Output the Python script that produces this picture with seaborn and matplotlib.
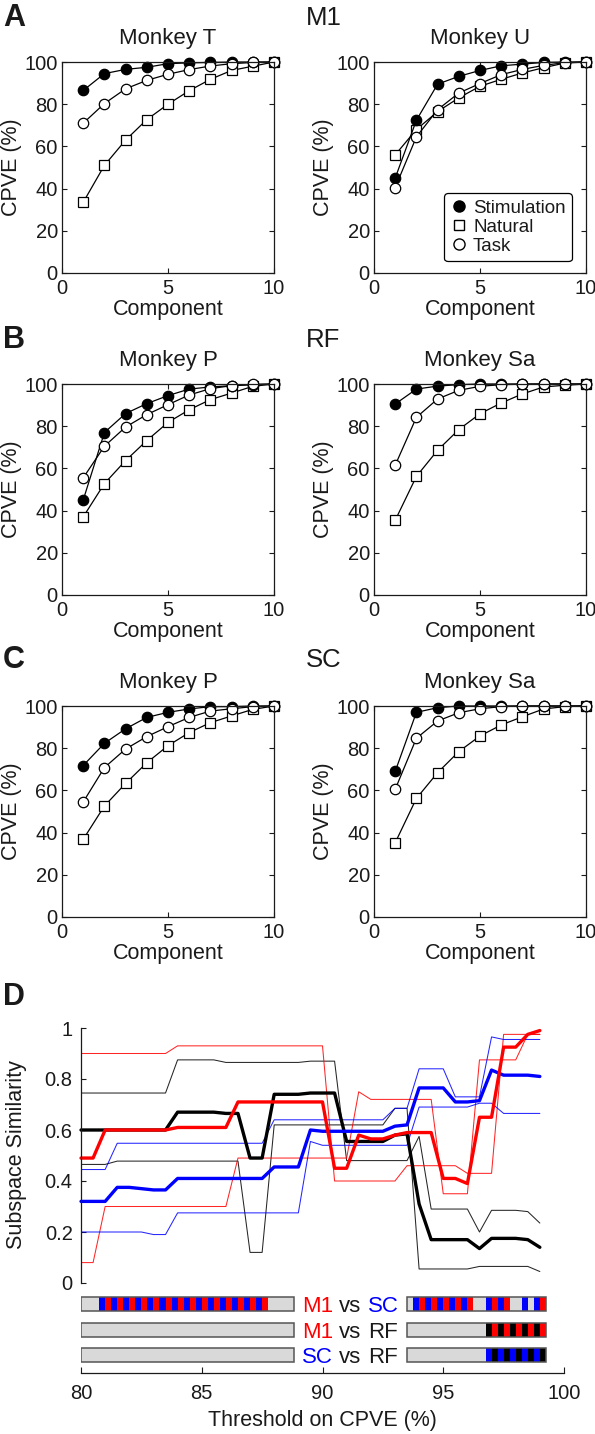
import matplotlib
matplotlib.use('Agg')
import matplotlib.pyplot as plt
from matplotlib.lines import Line2D
import seaborn as sns

sns.set_style('ticks')
plt.rcParams['font.family'] = ['Liberation Sans', 'DejaVu Sans']
plt.rcParams['text.color'] = '#1a1a1a'
plt.rcParams['axes.labelcolor'] = '#1a1a1a'
plt.rcParams['xtick.color'] = '#1a1a1a'
plt.rcParams['ytick.color'] = '#1a1a1a'
plt.rcParams['axes.edgecolor'] = '#1a1a1a'

# ---- CPVE panels (A, B, C) ----
components = [1, 2, 3, 4, 5, 6, 7, 8, 9, 10]

t_stim = [86.5, 94.5, 96.5, 97.5, 99.2, 99.6, 99.8, 100, 100, 100]
t_nat = [33.5, 51, 63, 72.7, 80, 86.4, 91.8, 96, 98, 100]
t_task = [71, 80.3, 87.3, 91.3, 94.2, 96.4, 98.1, 99.2, 99.8, 100]

u_stim = [45, 72.4, 89.5, 93.2, 96, 98.2, 99, 99.8, 100, 100]
u_nat = [56, 68, 76.5, 83, 88.5, 91.8, 94.8, 97.3, 99.5, 100]
u_task = [40.5, 64.5, 77.4, 85.3, 89.8, 94, 96.5, 98.4, 99.7, 100]

p_rf_stim = [45, 77, 86, 90.7, 94.5, 97.6, 98.6, 99.2, 99.7, 100]
p_rf_nat = [37, 52.8, 63.7, 73.2, 81.8, 87.8, 92.6, 95.7, 98.9, 100]
p_rf_task = [55.5, 70.5, 79.6, 85.5, 90.2, 94.8, 97.8, 99.2, 99.8, 100]

sa_rf_stim = [90.5, 97.6, 99, 99.7, 100, 100, 100, 100, 100, 100]
sa_rf_nat = [35.4, 56.2, 68.6, 78.4, 85.9, 91, 95.3, 98.6, 99.4, 100]
sa_rf_task = [61.5, 84.2, 92.9, 97, 98.9, 99.7, 99.9, 100, 100, 100]

p_sc_stim = [71.8, 82.3, 89.2, 94.6, 97, 98.6, 99.7, 99.7, 100, 100]
p_sc_nat = [36.8, 52.6, 63.3, 73.1, 81.2, 87.4, 92.1, 95.3, 98.4, 100]
p_sc_task = [54.5, 70.8, 79.6, 85.5, 90.2, 94.6, 97.6, 98.7, 99.7, 100]

sa_sc_stim = [69, 97, 99.2, 100, 100, 100, 100, 100, 100, 100]
sa_sc_nat = [35.2, 56.2, 68.4, 78.4, 85.8, 91, 94.9, 98.6, 99.7, 100]
sa_sc_task = [60.5, 84.7, 92.9, 96.8, 98.7, 99.7, 100, 100, 100, 100]

# ---- Panel D: subspace similarity vs threshold ----
thresholds = [80, 80.5, 81, 81.5, 82, 82.5, 83, 83.5, 84, 84.5, 85, 85.5, 86,
              86.5, 87, 87.5, 88, 88.5, 89, 89.5, 90, 90.5, 91, 91.5, 92, 92.5,
              93, 93.5, 94, 94.5, 95, 95.5, 96, 96.5, 97, 97.5, 98, 98.5, 99]

black_mean = [0.60, 0.60, 0.60, 0.60, 0.60, 0.60, 0.60, 0.60, 0.67, 0.67, 0.67, 0.67, 0.665,
              0.665, 0.49, 0.49, 0.74, 0.74, 0.74, 0.745, 0.745, 0.745, 0.555, 0.555, 0.555, 0.555,
              0.58, 0.585, 0.31, 0.17, 0.17, 0.17, 0.17, 0.135, 0.175, 0.175, 0.175, 0.17, 0.14]
black_a = [0.745, 0.745, 0.745, 0.745, 0.745, 0.745, 0.745, 0.745, 0.875, 0.875, 0.875, 0.875, 0.865,
           0.865, 0.865, 0.865, 0.865, 0.865, 0.865, 0.87, 0.87, 0.87, 0.48, 0.48, 0.48, 0.48,
           0.48, 0.48, 0.575, 0.29, 0.29, 0.29, 0.29, 0.20, 0.285, 0.285, 0.285, 0.28, 0.235]
black_b = [0.465, 0.465, 0.465, 0.478, 0.478, 0.478, 0.478, 0.478, 0.478, 0.478, 0.478, 0.478, 0.478,
           0.478, 0.12, 0.12, 0.62, 0.62, 0.62, 0.62, 0.62, 0.62, 0.62, 0.62, 0.62, 0.62,
           0.685, 0.685, 0.055, 0.055, 0.055, 0.055, 0.055, 0.065, 0.065, 0.065, 0.065, 0.065, 0.045]

red_mean = [0.49, 0.49, 0.60, 0.60, 0.60, 0.60, 0.60, 0.60, 0.61, 0.61, 0.61, 0.61, 0.61,
            0.71, 0.71, 0.71, 0.71, 0.71, 0.71, 0.71, 0.71, 0.45, 0.45, 0.58, 0.565, 0.565,
            0.58, 0.59, 0.59, 0.59, 0.41, 0.41, 0.39, 0.65, 0.65, 0.925, 0.925, 0.975, 0.99]
red_a = [0.90, 0.90, 0.90, 0.90, 0.90, 0.90, 0.90, 0.90, 0.93, 0.93, 0.93, 0.93, 0.93,
         0.93, 0.93, 0.93, 0.93, 0.93, 0.93, 0.93, 0.93, 0.40, 0.40, 0.40, 0.40, 0.40,
         0.40, 0.46, 0.46, 0.46, 0.46, 0.46, 0.43, 0.43, 0.43, 0.975, 0.975, 0.975, 0.975]
red_b = [0.08, 0.08, 0.30, 0.30, 0.30, 0.30, 0.30, 0.30, 0.30, 0.30, 0.30, 0.30, 0.30,
         0.49, 0.49, 0.49, 0.49, 0.49, 0.49, 0.49, 0.49, 0.49, 0.49, 0.75, 0.72, 0.72,
         0.72, 0.72, 0.72, 0.72, 0.35, 0.35, 0.35, 0.875, 0.875, 0.875, 0.875, 0.975, 0.975]

blue_mean = [0.32, 0.32, 0.32, 0.375, 0.375, 0.37, 0.365, 0.365, 0.41, 0.41, 0.41, 0.41, 0.41,
             0.41, 0.41, 0.41, 0.455, 0.455, 0.455, 0.60, 0.595, 0.595, 0.595, 0.595, 0.595, 0.595,
             0.615, 0.62, 0.765, 0.765, 0.765, 0.71, 0.71, 0.715, 0.835, 0.815, 0.815, 0.815, 0.81]
blue_a = [0.445, 0.445, 0.445, 0.548, 0.548, 0.548, 0.548, 0.548, 0.548, 0.548, 0.548, 0.548, 0.548,
          0.548, 0.548, 0.548, 0.64, 0.64, 0.64, 0.64, 0.64, 0.64, 0.64, 0.64, 0.64, 0.64,
          0.685, 0.685, 0.84, 0.84, 0.84, 0.73, 0.73, 0.73, 0.965, 0.955, 0.955, 0.955, 0.955]
blue_b = [0.20, 0.20, 0.20, 0.20, 0.20, 0.20, 0.19, 0.19, 0.275, 0.275, 0.275, 0.275, 0.275,
          0.275, 0.275, 0.275, 0.275, 0.275, 0.275, 0.555, 0.54, 0.54, 0.54, 0.54, 0.54, 0.54,
          0.54, 0.54, 0.69, 0.69, 0.69, 0.69, 0.69, 0.705, 0.705, 0.665, 0.665, 0.665, 0.665]

# significance flags per threshold (first half / second half of each cell)
m1_sc_first = [0, 0, 1, 1, 1, 1, 1, 1, 1, 1, 1, 1, 1, 1, 1, 1, 0, 0, 0, 0,
               0, 0, 0, 0, 0, 0, 0, 0, 1, 1, 1, 1, 1, 0, 1, 1, 0, 1, 1]
m1_sc_second = [0, 0, 1, 1, 1, 1, 1, 1, 1, 1, 1, 1, 1, 1, 1, 1, 0, 0, 0, 0,
                0, 0, 0, 0, 0, 0, 0, 0, 1, 1, 1, 1, 1, 0, 1, 1, 0, 0, 1]
m1_rf_first = [0] * 34 + [1, 1, 1, 1, 1]
m1_rf_second = [0] * 34 + [1, 1, 1, 1, 1]
sc_rf_first = [0] * 34 + [1, 1, 1, 1, 1]
sc_rf_second = [0] * 34 + [1, 1, 1, 1, 1]

RED = '#ff0000'
BLUE = '#0000ff'
BLACK = '#000000'
FS_TICK = 14.5
FS_LABEL = 15.5

W, H = 595, 1434
fig = plt.figure(figsize=(W / 100, H / 100), dpi=100)


def px_axes(x0, y0, x1, y1):
    return fig.add_axes([x0 / W, 1 - y1 / H, (x1 - x0) / W, (y1 - y0) / H])


def cpve_panel(ax, title, stim, nat, task, legend=False):
    sns.lineplot(x=components, y=nat, ax=ax, color='k', lw=0.9, marker='s', markersize=7,
                 markerfacecolor='white', markeredgecolor='k', markeredgewidth=0.9, clip_on=False)
    sns.lineplot(x=components, y=stim, ax=ax, color='k', lw=0.9, marker='o', markersize=7.5,
                 markerfacecolor='k', markeredgecolor='k', markeredgewidth=0.9, clip_on=False)
    sns.lineplot(x=components, y=task, ax=ax, color='k', lw=0.9, marker='o', markersize=7.5,
                 markerfacecolor='white', markeredgecolor='k', markeredgewidth=0.9, clip_on=False)
    ax.set_xlim(0, 10)
    ax.set_ylim(0, 100)
    ax.set_xticks([0, 5, 10])
    ax.set_yticks([0, 20, 40, 60, 80, 100])
    ax.tick_params(direction='in', top=True, right=True, length=3.5, width=0.8,
                   labelsize=FS_TICK, pad=3)
    ax.tick_params(axis='x', pad=4)
    for sp in ax.spines.values():
        sp.set_visible(True)
        sp.set_linewidth(0.9)
    ax.set_xlabel('Component', fontsize=FS_LABEL, labelpad=1)
    ax.set_ylabel('CPVE (%)', fontsize=FS_LABEL, labelpad=2)
    ax.text(0.5, 1.085, title, transform=ax.transAxes, ha='center', va='baseline', fontsize=16)
    if legend:
        handles = [
            Line2D([], [], ls='none', marker='o', ms=8, mfc='k', mec='k', label='Stimulation'),
            Line2D([], [], ls='none', marker='s', ms=7, mfc='white', mec='k', label='Natural'),
            Line2D([], [], ls='none', marker='o', ms=8, mfc='white', mec='k', label='Task'),
        ]
        leg = ax.legend(handles=handles, loc='lower right', bbox_to_anchor=(0.935, 0.055),
                        fontsize=13.5, frameon=True, fancybox=True, edgecolor='k', framealpha=1,
                        handletextpad=0.3, labelspacing=0.1, borderpad=0.35, handlelength=0.9,
                        borderaxespad=0)
        leg.get_frame().set_linewidth(0.9)


rows = [(62, 273), (384, 595), (706, 917)]
cols = [(62, 274), (374, 586)]
panels = [
    ('Monkey T', t_stim, t_nat, t_task, False), ('Monkey U', u_stim, u_nat, u_task, True),
    ('Monkey P', p_rf_stim, p_rf_nat, p_rf_task, False), ('Monkey Sa', sa_rf_stim, sa_rf_nat, sa_rf_task, False),
    ('Monkey P', p_sc_stim, p_sc_nat, p_sc_task, False), ('Monkey Sa', sa_sc_stim, sa_sc_nat, sa_sc_task, False),
]
for i, (title, s, n, t, leg) in enumerate(panels):
    (y0, y1), (x0, x1) = rows[i // 2], cols[i % 2]
    cpve_panel(px_axes(x0, y0, x1, y1), title, s, n, t, legend=leg)

# panel letters and area labels
for letter, area, ypx in [('A', 'M1', 18), ('B', 'RF', 340), ('C', 'SC', 660)]:
    fig.text(3 / W, 1 - ypx / H, letter, fontsize=22, fontweight='bold', ha='left', va='center')
    fig.text(306 / W, 1 - ypx / H, area, fontsize=18.5, ha='left', va='center')
fig.text(3 / W, 1 - 997 / H, 'D', fontsize=22, fontweight='bold', ha='left', va='center')

# ---- panel D lines ----
axd = px_axes(81, 1028, 564, 1283)
for vals, c in [(black_a, BLACK), (black_b, BLACK), (red_a, RED), (red_b, RED), (blue_a, BLUE), (blue_b, BLUE)]:
    sns.lineplot(x=thresholds, y=vals, ax=axd, color=c, lw=0.75, alpha=0.85)
for vals, c in [(black_mean, BLACK), (blue_mean, BLUE), (red_mean, RED)]:
    sns.lineplot(x=thresholds, y=vals, ax=axd, color=c, lw=2.4, clip_on=False)
axd.set_xlim(80, 100)
axd.set_ylim(0, 1)
axd.set_yticks([0, 0.2, 0.4, 0.6, 0.8, 1])
axd.set_yticklabels(['0', '0.2', '0.4', '0.6', '0.8', '1'])
axd.tick_params(axis='y', direction='in', length=3.5, width=0.8, labelsize=FS_TICK, pad=6)
axd.tick_params(axis='x', bottom=False, labelbottom=False)
for side in ['top', 'right', 'bottom']:
    axd.spines[side].set_visible(False)
axd.spines['left'].set_linewidth(0.9)
fig.text(17 / W, 1 - 1155 / H, 'Subspace Similarity', rotation=90, ha='center', va='center',
         fontsize=FS_LABEL)

# ---- panel D significance bars ----
axb = px_axes(81, 1290, 564, 1373)
axb.set_xlim(80, 100)
axb.set_ylim(-0.706, 2.55)
bar_h = 0.55
segments = [(80, 88.8), (93.5, 99.25)]
bar_rows = [
    (2, m1_sc_first, m1_sc_second, BLUE, RED, ('M1', RED), ('SC', BLUE)),
    (1, m1_rf_first, m1_rf_second, BLACK, RED, ('M1', RED), ('RF', '#1a1a1a')),
    (0, sc_rf_first, sc_rf_second, BLUE, BLACK, ('SC', BLUE), ('RF', '#1a1a1a')),
]
for r, first, second, c1, c2, left_lbl, right_lbl in bar_rows:
    for a, b in segments:
        axb.barh(r, b - a, left=a, height=bar_h, color='#d9d9d9', lw=0, zorder=1)
    for t, f1, f2 in zip(thresholds, first, second):
        if f1:
            axb.barh(r, 0.25, left=t - 0.25, height=bar_h, color=c1, lw=0, zorder=2)
        if f2:
            axb.barh(r, 0.25, left=t, height=bar_h, color=c2, lw=0, zorder=2)
    for a, b in segments:
        axb.barh(r, b - a, left=a, height=bar_h, fill=False, edgecolor='#555555', lw=1.1, zorder=3)
    xc = 91.15
    axb.annotate('vs', (xc, r), xytext=(0, 0), textcoords='offset points', ha='center',
                 va='center_baseline', fontsize=16)
    axb.annotate(left_lbl[0], (xc, r), xytext=(-12.5, 0), textcoords='offset points', ha='right',
                 va='center_baseline', fontsize=16, color=left_lbl[1])
    axb.annotate(right_lbl[0], (xc, r), xytext=(12.5, 0), textcoords='offset points', ha='left',
                 va='center_baseline', fontsize=16, color=right_lbl[1])

axb.set_xticks([80, 85, 90, 95, 100])
axb.set_yticks([])
axb.tick_params(axis='x', direction='in', length=4, width=0.8, labelsize=FS_TICK, pad=8)
for side in ['top', 'right', 'left']:
    axb.spines[side].set_visible(False)
axb.spines['bottom'].set_linewidth(0.9)
axb.set_xlabel('Threshold on CPVE (%)', fontsize=FS_LABEL, labelpad=5)

fig.savefig('out.png', dpi=100)
